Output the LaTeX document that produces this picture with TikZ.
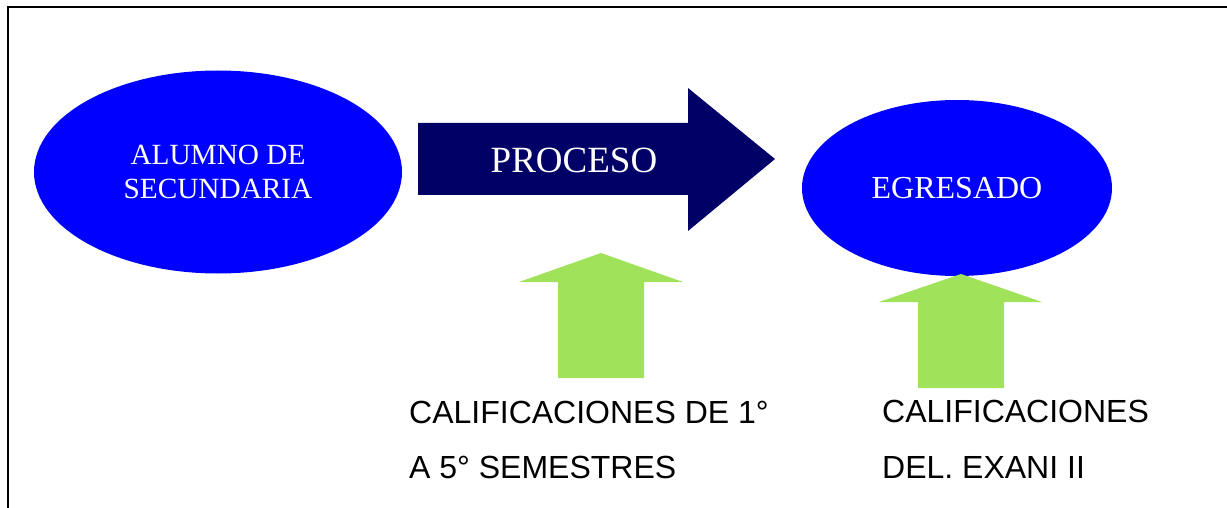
\documentclass[tikz,border=0pt]{standalone}
\usepackage{fontspec}
\setmainfont{Liberation Serif}
\newfontfamily\arialfont{Liberation Sans}
\usetikzlibrary{shapes.geometric}
\definecolor{navyarrow}{RGB}{0,0,102}
\definecolor{pureblue}{RGB}{0,0,255}
\definecolor{lgreen}{RGB}{160,226,90}
\tikzset{
  blueoval/.style={ellipse, fill=pureblue, inner sep=0pt, text=white, align=center},
  greenarrow/.style={fill=lgreen, draw=none},
  caption/.style={anchor=base west, inner sep=0pt, font=\arialfont\fontsize{32}{38}\selectfont},
}
\begin{document}
\begin{tikzpicture}[x=1pt,y=-1pt]
\useasboundingbox (0,0) rectangle (1227,508);
% frame (top and left edges visible)
\draw[line width=2.2pt] (8,508) -- (8,7) -- (1227,7);
% left ellipse
\node[blueoval, minimum width=368pt, minimum height=203pt,
      font=\fontsize{29.3}{34}\selectfont] (alumno) at (218,172) {ALUMNO DE\\SECUNDARIA};
% right ellipse
\node[blueoval, minimum width=310pt, minimum height=176pt,
      font=\fontsize{32}{38}\selectfont] (egresado) at (957,188) {EGRESADO};
% process block arrow
\fill[navyarrow] (418,123) -- (688,123) -- (688,88) -- (775,159) -- (688,231) -- (688,195) -- (418,195) -- cycle;
\node[text=white, anchor=base, inner sep=0pt, font=\fontsize{37}{44}\selectfont] (proceso) at (574,173) {PROCESO};
% green arrows
\fill[greenarrow] (601,253) -- (683,282) -- (644,282) -- (644,378) -- (558,378) -- (558,282) -- (519,282) -- cycle;
\fill[greenarrow] (961,274) -- (1042,302) -- (1004,302) -- (1004,388) -- (918,388) -- (918,302) -- (879,302) -- cycle;
% captions
\node[caption] (cal1a) at (409,423) {CALIFICACIONES DE 1°};
\node[caption] (cal1b) at (409,478) {A 5° SEMESTRES};
\node[caption] (cal2a) at (882,422) {CALIFICACIONES};
\node[caption] (cal2b) at (882,478) {DEL. EXANI II};
\end{tikzpicture}
\end{document}
